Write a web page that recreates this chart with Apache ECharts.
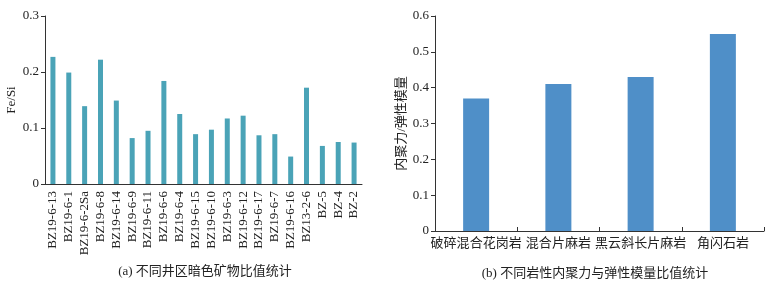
<!DOCTYPE html>
<html>
<head>
<meta charset="utf-8">
<script src="https://cdn.jsdelivr.net/npm/echarts@6/dist/echarts.min.js"></script>
<style>
  html, body { margin: 0; padding: 0; background: #fff; }
  #chart { width: 773px; height: 284px; }
</style>
</head>
<body>
<div id="chart"></div>
<script>
// (a) 井区样品 Fe/Si
const wellNames = ['BZ19-6-13', 'BZ19-6-1', 'BZ19-6-2Sa', 'BZ19-6-8', 'BZ19-6-14', 'BZ19-6-9', 'BZ19-6-11',
  'BZ19-6-6', 'BZ19-6-4', 'BZ19-6-15', 'BZ19-6-10', 'BZ19-6-3', 'BZ19-6-12', 'BZ19-6-17', 'BZ19-6-7',
  'BZ19-6-16', 'BZ13-2-6', 'BZ-5', 'BZ-4', 'BZ-2']
const feSiValues = [0.227, 0.199, 0.139, 0.222, 0.149, 0.082, 0.095, 0.184, 0.125, 0.089, 0.097,
  0.117, 0.122, 0.087, 0.089, 0.049, 0.172, 0.068, 0.075, 0.074]
const feSiTicks = [0, 0.1, 0.2, 0.3]

// (b) 岩性 内聚力/弹性模量
const rockNames = ['破碎混合花岗岩', '混合片麻岩', '黑云斜长片麻岩', '角闪石岩']
const ratioValues = [0.37, 0.41, 0.43, 0.55]
const ratioTicks = [0, 0.1, 0.2, 0.3, 0.4, 0.5, 0.6]

const font = '"Liberation Serif", "Noto Sans CJK SC", serif'
const axisColor = '#333'

const chart = echarts.init(document.getElementById('chart'))

const option = {
  animation: false,
  textStyle: { fontFamily: font },
  title: [
    {
      text: '(a) 不同井区暗色矿物比值统计',
      left: 200,
      top: 260,
      textAlign: 'center',
      textStyle: { fontSize: 13, fontWeight: 'normal', color: '#222', fontFamily: font }
    },
    {
      text: '(b) 不同岩性内聚力与弹性模量比值统计',
      left: 590,
      top: 262,
      textAlign: 'center',
      textStyle: { fontSize: 13, fontWeight: 'normal', color: '#222', fontFamily: font }
    }
  ],
  grid: [
    { left: 45, top: 16, right: 411, bottom: 100 },
    { left: 435, top: 16, right: 9, bottom: 53 }
  ],
  xAxis: [
    {
      type: 'category',
      gridIndex: 0,
      data: wellNames,
      axisLine: { lineStyle: { color: axisColor } },
      axisTick: { show: false },
      axisLabel: { rotate: 90, interval: 0, fontSize: 13, color: '#222', margin: 7, fontFamily: font }
    },
    {
      type: 'category',
      gridIndex: 1,
      data: rockNames,
      axisLine: { lineStyle: { color: axisColor } },
      axisTick: { show: true, inside: true, length: 4, lineStyle: { color: axisColor } },
      axisLabel: { interval: 0, fontSize: 13, color: '#222', margin: 6, fontFamily: font }
    }
  ],
  yAxis: [
    {
      type: 'value',
      gridIndex: 0,
      min: feSiTicks[0],
      max: feSiTicks[feSiTicks.length - 1],
      interval: 0.1,
      name: 'Fe/Si',
      nameLocation: 'middle',
      nameGap: 27,
      nameTextStyle: { fontSize: 13, color: '#222', fontFamily: font },
      axisLine: { show: true, lineStyle: { color: axisColor } },
      axisTick: { show: true, length: 4, lineStyle: { color: axisColor } },
      splitLine: { show: false },
      axisLabel: { fontSize: 13, color: '#222', margin: 6, fontFamily: font }
    },
    {
      type: 'value',
      gridIndex: 1,
      min: ratioTicks[0],
      max: ratioTicks[ratioTicks.length - 1],
      interval: 0.1,
      name: '内聚力/弹性模量',
      nameLocation: 'middle',
      nameGap: 27,
      nameTextStyle: { fontSize: 13, color: '#222', fontFamily: font },
      axisLine: { show: true, lineStyle: { color: axisColor } },
      axisTick: { show: true, length: 4, lineStyle: { color: axisColor } },
      splitLine: { show: false },
      axisLabel: { fontSize: 13, color: '#222', margin: 6, fontFamily: font }
    }
  ],
  series: [
    {
      type: 'bar',
      xAxisIndex: 0,
      yAxisIndex: 0,
      data: feSiValues,
      barWidth: 5,
      itemStyle: { color: '#4aa3b7' }
    },
    {
      type: 'bar',
      xAxisIndex: 1,
      yAxisIndex: 1,
      data: ratioValues,
      barWidth: 26,
      itemStyle: { color: '#4f8fc8' }
    }
  ]
}

chart.setOption(option)
</script>
</body>
</html>
